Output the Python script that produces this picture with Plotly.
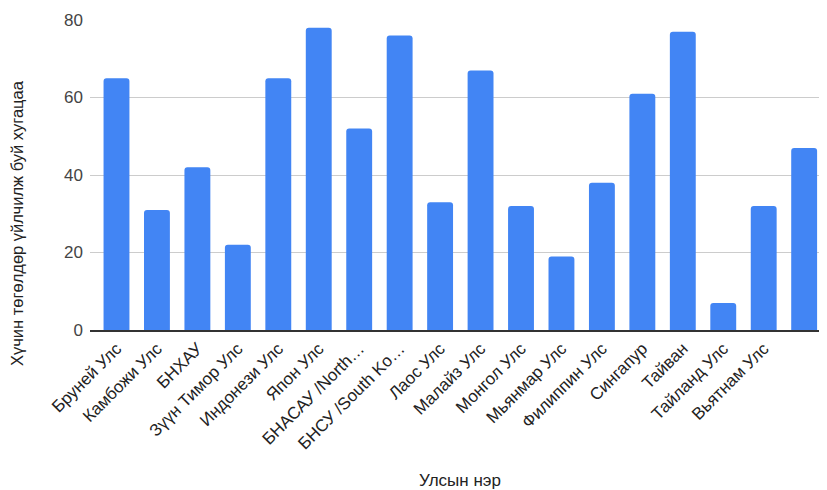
import plotly.graph_objects as go

countries = [
    "Бруней Улс", "Камбожи Улс", "БНХАУ", "Зүүн Тимор Улс", "Индонези Улс",
    "Япон Улс", "БНАСАУ /North…", "БНСУ /South Ko…", "Лаос Улс", "Малайз Улс",
    "Монгол Улс", "Мьянмар Улс", "Филиппин Улс", "Сингапур", "Тайван",
    "Тайланд Улс", "Вьятнам Улс", "",
]
values = [65, 31, 42, 22, 65, 78, 52, 76, 33, 67, 32, 19, 38, 61, 77, 7, 32, 47]
y_ticks = [0, 20, 40, 60, 80]
y_title = "Хүчин төгөлдөр үйлчилж буй хугацаа"
x_title = "Улсын нэр"

x_idx = list(range(len(countries)))
font = "Liberation Sans, Arial, sans-serif"

fig = go.Figure(go.Bar(
    x=x_idx, y=values, marker=dict(color="#4285F4", line=dict(width=0)),
    width=0.64,
))
fig.update_layout(
    width=827, height=490,
    margin=dict(l=82, r=9, t=12, b=168),
    paper_bgcolor="white", plot_bgcolor="white",
    font=dict(family=font, size=16, color="#222"),
    barcornerradius=3,
    showlegend=False,
)
fig.update_xaxes(
    range=[-0.655, 17.54], tickmode="array", tickvals=x_idx, ticktext=countries,
    tickangle=-45, showgrid=False, showline=True, linecolor="#333", linewidth=2,
    tickfont=dict(size=17, color="#222"), ticks="", automargin=False,
)
fig.update_yaxes(
    range=[0, 80], tickvals=y_ticks, showgrid=True, gridcolor="#cccccc", gridwidth=1,
    zeroline=False, tickfont=dict(size=17, color="#444"), ticks="", automargin=False,
    ticklabelstandoff=6,
)
fig.add_annotation(
    text=y_title, textangle=-90, showarrow=False,
    xref="paper", yref="paper", x=-0.0992, y=0.345, xanchor="center", yanchor="middle",
    font=dict(size=16.5, color="#222", family=font),
)
fig.add_annotation(
    text=x_title, showarrow=False,
    xref="paper", yref="paper", x=0.503, y=-0.484, xanchor="center", yanchor="middle",
    font=dict(size=17, color="#222", family=font),
)
fig.write_html("out.html")
